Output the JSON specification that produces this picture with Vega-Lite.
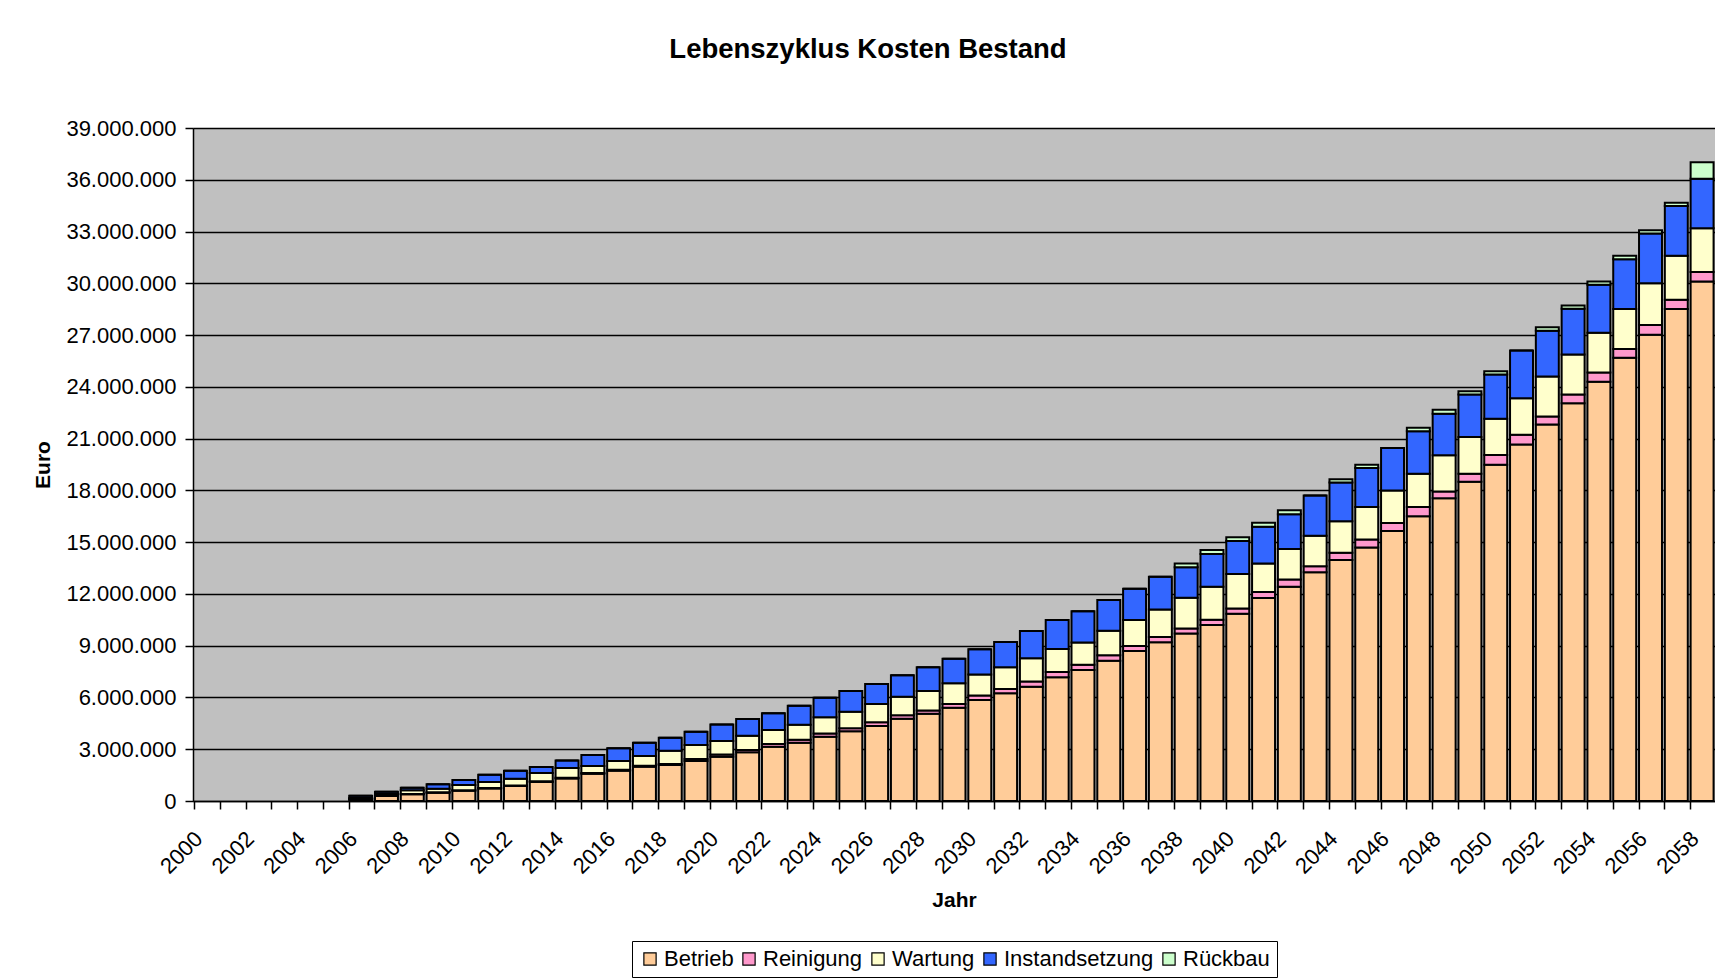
{
  "$schema": "https://vega.github.io/schema/vega-lite/v6.json",
  "width": 1522,
  "height": 673,
  "autosize": {"type": "none"},
  "padding": {"left": 193, "top": 128, "right": 0, "bottom": 177},
  "background": "white",
  "title": {
    "text": "Lebenszyklus Kosten Bestand",
    "font": "Liberation Sans",
    "fontSize": 27.5,
    "fontWeight": "bold",
    "color": "black",
    "anchor": "middle",
    "dx": -86,
    "offset": 54
  },
  "data": {
    "values": [
      {"Jahr": "2006", "Betrieb": 100000, "Reinigung": 10000, "Wartung": 60000, "Instandsetzung": 140000, "Rückbau": 0},
      {"Jahr": "2007", "Betrieb": 290000, "Reinigung": 20000, "Wartung": 100000, "Instandsetzung": 130000, "Rückbau": 0},
      {"Jahr": "2008", "Betrieb": 390000, "Reinigung": 20000, "Wartung": 210000, "Instandsetzung": 150000, "Rückbau": 0},
      {"Jahr": "2009", "Betrieb": 480000, "Reinigung": 30000, "Wartung": 200000, "Instandsetzung": 260000, "Rückbau": 0},
      {"Jahr": "2010", "Betrieb": 600000, "Reinigung": 30000, "Wartung": 300000, "Instandsetzung": 290000, "Rückbau": 0},
      {"Jahr": "2011", "Betrieb": 730000, "Reinigung": 30000, "Wartung": 340000, "Instandsetzung": 420000, "Rückbau": 0},
      {"Jahr": "2012", "Betrieb": 870000, "Reinigung": 30000, "Wartung": 390000, "Instandsetzung": 470000, "Rückbau": 0},
      {"Jahr": "2013", "Betrieb": 1100000, "Reinigung": 40000, "Wartung": 480000, "Instandsetzung": 350000, "Rückbau": 0},
      {"Jahr": "2014", "Betrieb": 1310000, "Reinigung": 40000, "Wartung": 560000, "Instandsetzung": 430000, "Rückbau": 0},
      {"Jahr": "2015", "Betrieb": 1580000, "Reinigung": 40000, "Wartung": 410000, "Instandsetzung": 630000, "Rückbau": 0},
      {"Jahr": "2016", "Betrieb": 1760000, "Reinigung": 50000, "Wartung": 510000, "Instandsetzung": 730000, "Rückbau": 0},
      {"Jahr": "2017", "Betrieb": 1990000, "Reinigung": 50000, "Wartung": 570000, "Instandsetzung": 770000, "Rückbau": 0},
      {"Jahr": "2018", "Betrieb": 2090000, "Reinigung": 60000, "Wartung": 760000, "Instandsetzung": 760000, "Rückbau": 0},
      {"Jahr": "2019", "Betrieb": 2320000, "Reinigung": 120000, "Wartung": 800000, "Instandsetzung": 780000, "Rückbau": 0},
      {"Jahr": "2020", "Betrieb": 2570000, "Reinigung": 120000, "Wartung": 790000, "Instandsetzung": 960000, "Rückbau": 0},
      {"Jahr": "2021", "Betrieb": 2820000, "Reinigung": 140000, "Wartung": 820000, "Instandsetzung": 970000, "Rückbau": 0},
      {"Jahr": "2022", "Betrieb": 3150000, "Reinigung": 150000, "Wartung": 810000, "Instandsetzung": 970000, "Rückbau": 0},
      {"Jahr": "2023", "Betrieb": 3380000, "Reinigung": 170000, "Wartung": 870000, "Instandsetzung": 1100000, "Rückbau": 0},
      {"Jahr": "2024", "Betrieb": 3730000, "Reinigung": 180000, "Wartung": 940000, "Instandsetzung": 1140000, "Rückbau": 0},
      {"Jahr": "2025", "Betrieb": 4040000, "Reinigung": 180000, "Wartung": 950000, "Instandsetzung": 1200000, "Rückbau": 0},
      {"Jahr": "2026", "Betrieb": 4350000, "Reinigung": 220000, "Wartung": 1050000, "Instandsetzung": 1160000, "Rückbau": 0},
      {"Jahr": "2027", "Betrieb": 4770000, "Reinigung": 200000, "Wartung": 1070000, "Instandsetzung": 1240000, "Rückbau": 0},
      {"Jahr": "2028", "Betrieb": 5050000, "Reinigung": 200000, "Wartung": 1120000, "Instandsetzung": 1380000, "Rückbau": 0},
      {"Jahr": "2029", "Betrieb": 5400000, "Reinigung": 220000, "Wartung": 1200000, "Instandsetzung": 1430000, "Rückbau": 0},
      {"Jahr": "2030", "Betrieb": 5850000, "Reinigung": 260000, "Wartung": 1220000, "Instandsetzung": 1470000, "Rückbau": 0},
      {"Jahr": "2031", "Betrieb": 6240000, "Reinigung": 250000, "Wartung": 1260000, "Instandsetzung": 1460000, "Rückbau": 0},
      {"Jahr": "2032", "Betrieb": 6620000, "Reinigung": 300000, "Wartung": 1350000, "Instandsetzung": 1580000, "Rückbau": 0},
      {"Jahr": "2033", "Betrieb": 7170000, "Reinigung": 300000, "Wartung": 1340000, "Instandsetzung": 1680000, "Rückbau": 0},
      {"Jahr": "2034", "Betrieb": 7590000, "Reinigung": 300000, "Wartung": 1300000, "Instandsetzung": 1810000, "Rückbau": 0},
      {"Jahr": "2035", "Betrieb": 8130000, "Reinigung": 310000, "Wartung": 1430000, "Instandsetzung": 1780000, "Rückbau": 0},
      {"Jahr": "2036", "Betrieb": 8690000, "Reinigung": 290000, "Wartung": 1510000, "Instandsetzung": 1810000, "Rückbau": 0},
      {"Jahr": "2037", "Betrieb": 9200000, "Reinigung": 300000, "Wartung": 1600000, "Instandsetzung": 1900000, "Rückbau": 0},
      {"Jahr": "2038", "Betrieb": 9700000, "Reinigung": 300000, "Wartung": 1780000, "Instandsetzung": 1760000, "Rückbau": 230000},
      {"Jahr": "2039", "Betrieb": 10200000, "Reinigung": 300000, "Wartung": 1920000, "Instandsetzung": 1890000, "Rückbau": 230000},
      {"Jahr": "2040", "Betrieb": 10850000, "Reinigung": 300000, "Wartung": 2000000, "Instandsetzung": 1910000, "Rückbau": 220000},
      {"Jahr": "2041", "Betrieb": 11760000, "Reinigung": 350000, "Wartung": 1660000, "Instandsetzung": 2120000, "Rückbau": 230000},
      {"Jahr": "2042", "Betrieb": 12420000, "Reinigung": 420000, "Wartung": 1770000, "Instandsetzung": 2010000, "Rückbau": 230000},
      {"Jahr": "2043", "Betrieb": 13250000, "Reinigung": 350000, "Wartung": 1770000, "Instandsetzung": 2330000, "Rückbau": 0},
      {"Jahr": "2044", "Betrieb": 13960000, "Reinigung": 420000, "Wartung": 1830000, "Instandsetzung": 2240000, "Rückbau": 190000},
      {"Jahr": "2045", "Betrieb": 14690000, "Reinigung": 470000, "Wartung": 1880000, "Instandsetzung": 2250000, "Rückbau": 200000},
      {"Jahr": "2046", "Betrieb": 15650000, "Reinigung": 460000, "Wartung": 1890000, "Instandsetzung": 2450000, "Rückbau": 0},
      {"Jahr": "2047", "Betrieb": 16500000, "Reinigung": 540000, "Wartung": 1930000, "Instandsetzung": 2460000, "Rückbau": 200000},
      {"Jahr": "2048", "Betrieb": 17540000, "Reinigung": 390000, "Wartung": 2100000, "Instandsetzung": 2410000, "Rückbau": 230000},
      {"Jahr": "2049", "Betrieb": 18500000, "Reinigung": 470000, "Wartung": 2120000, "Instandsetzung": 2460000, "Rückbau": 200000},
      {"Jahr": "2050", "Betrieb": 19490000, "Reinigung": 560000, "Wartung": 2100000, "Instandsetzung": 2560000, "Rückbau": 190000},
      {"Jahr": "2051", "Betrieb": 20660000, "Reinigung": 560000, "Wartung": 2120000, "Instandsetzung": 2760000, "Rückbau": 0},
      {"Jahr": "2052", "Betrieb": 21820000, "Reinigung": 460000, "Wartung": 2320000, "Instandsetzung": 2650000, "Rückbau": 200000},
      {"Jahr": "2053", "Betrieb": 23050000, "Reinigung": 500000, "Wartung": 2320000, "Instandsetzung": 2660000, "Rückbau": 190000},
      {"Jahr": "2054", "Betrieb": 24290000, "Reinigung": 540000, "Wartung": 2310000, "Instandsetzung": 2770000, "Rückbau": 190000},
      {"Jahr": "2055", "Betrieb": 25680000, "Reinigung": 520000, "Wartung": 2310000, "Instandsetzung": 2890000, "Rückbau": 190000},
      {"Jahr": "2056", "Betrieb": 27020000, "Reinigung": 560000, "Wartung": 2430000, "Instandsetzung": 2870000, "Rückbau": 200000},
      {"Jahr": "2057", "Betrieb": 28510000, "Reinigung": 540000, "Wartung": 2540000, "Instandsetzung": 2890000, "Rückbau": 190000},
      {"Jahr": "2058", "Betrieb": 30100000, "Reinigung": 550000, "Wartung": 2540000, "Instandsetzung": 2870000, "Rückbau": 960000}
    ]
  },
  "transform": [
    {"fold": ["Betrieb", "Reinigung", "Wartung", "Instandsetzung", "Rückbau"], "as": ["Kostenart", "Euro"]},
    {
      "lookup": "Kostenart",
      "from": {
        "data": {
          "values": [
            {"Kostenart": "Betrieb", "Rang": 1},
            {"Kostenart": "Reinigung", "Rang": 2},
            {"Kostenart": "Wartung", "Rang": 3},
            {"Kostenart": "Instandsetzung", "Rang": 4},
            {"Kostenart": "Rückbau", "Rang": 5}
          ]
        },
        "key": "Kostenart",
        "fields": ["Rang"]
      }
    }
  ],
  "mark": {"type": "bar", "stroke": "black", "strokeWidth": 2},
  "encoding": {
    "x": {
      "field": "Jahr",
      "type": "ordinal",
      "title": "Jahr",
      "scale": {
        "domain": ["2000","2001","2002","2003","2004","2005","2006","2007","2008","2009","2010","2011","2012","2013","2014","2015","2016","2017","2018","2019","2020","2021","2022","2023","2024","2025","2026","2027","2028","2029","2030","2031","2032","2033","2034","2035","2036","2037","2038","2039","2040","2041","2042","2043","2044","2045","2046","2047","2048","2049","2050","2051","2052","2053","2054","2055","2056","2057","2058"],
        "paddingInner": 0.11,
        "paddingOuter": 0.055
      },
      "axis": {
        "bandPosition": 0,
        "grid": false,
        "ticks": true,
        "tickSize": 8,
        "tickWidth": 1.5,
        "tickColor": "black",
        "domainColor": "black",
        "domainWidth": 1.5,
        "labelAngle": -45,
        "labelAlign": "right",
        "labelBaseline": "middle",
        "labelPadding": 26,
        "labelOffset": -7,
        "labelOverlap": false,
        "labelBound": false,
        "labelFont": "Liberation Sans",
        "labelFontSize": 22,
        "labelColor": "black",
        "labelExpr": "toNumber(datum.value) % 2 == 0 ? datum.label : ''",
        "titleFont": "Liberation Sans",
        "titleFontSize": 21,
        "titleFontWeight": "bold",
        "titleColor": "black",
        "titlePadding": 12
      }
    },
    "y": {
      "field": "Euro",
      "type": "quantitative",
      "stack": "zero",
      "title": "Euro",
      "scale": {"domain": [0, 39000000], "nice": false, "zero": true},
      "axis": {
        "values": [0, 3000000, 6000000, 9000000, 12000000, 15000000, 18000000, 21000000, 24000000, 27000000, 30000000, 33000000, 36000000, 39000000],
        "format": ",d",
        "grid": true,
        "gridColor": "black",
        "gridWidth": 1.5,
        "tickSize": 8,
        "tickWidth": 1.5,
        "tickColor": "black",
        "domainColor": "black",
        "domainWidth": 1.5,
        "labelPadding": 9,
        "labelFont": "Liberation Sans",
        "labelFontSize": 22,
        "labelColor": "black",
        "titleFont": "Liberation Sans",
        "titleFontSize": 21,
        "titleFontWeight": "bold",
        "titleColor": "black",
        "titlePadding": 12
      }
    },
    "color": {
      "field": "Kostenart",
      "type": "nominal",
      "scale": {
        "domain": ["Betrieb", "Reinigung", "Wartung", "Instandsetzung", "Rückbau"],
        "range": ["#FFCC99", "#FF99CC", "#FFFFCC", "#3366FF", "#CCFFCC"]
      },
      "legend": {
        "orient": "none",
        "legendX": 439,
        "legendY": 813,
        "direction": "horizontal",
        "title": null,
        "strokeColor": "black",
        "fillColor": "white",
        "padding": 7,
        "labelFont": "Liberation Sans",
        "labelFontSize": 22,
        "labelColor": "black",
        "labelOffset": 3,
        "columnPadding": 4,
        "symbolType": "square",
        "symbolSize": 150,
        "symbolStrokeColor": "black",
        "symbolStrokeWidth": 1.2,
        "symbolOpacity": 1
      }
    },
    "order": {"field": "Rang", "type": "quantitative", "sort": "ascending"}
  },
  "config": {
    "locale": {
      "number": {"decimal": ",", "thousands": ".", "grouping": [3], "currency": ["", " €"]}
    },
    "view": {"fill": "#C0C0C0", "stroke": "#808080", "strokeWidth": 1}
  }
}
